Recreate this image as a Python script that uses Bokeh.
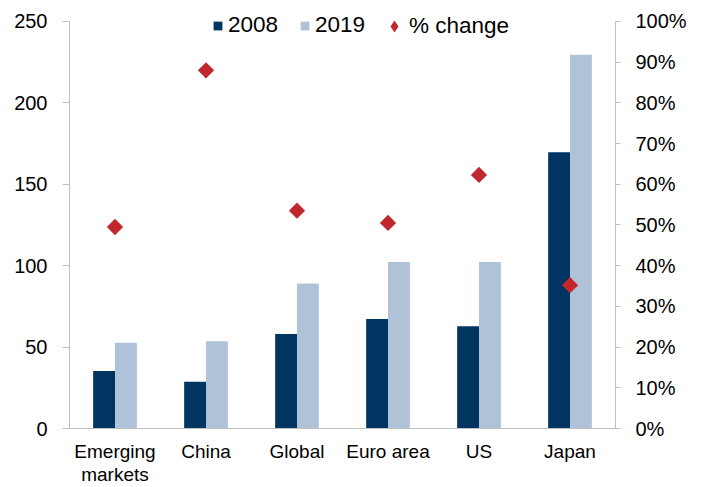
from bokeh.plotting import figure
from bokeh.models import (FactorRange, Range1d, LinearAxis, FixedTicker,
                          NumeralTickFormatter, Legend, LegendItem, ColumnDataSource)
from bokeh.transform import dodge
from bokeh.embed import file_html
from bokeh.resources import INLINE

categories = ["Emerging\nmarkets", "China", "Global", "Euro area", "US", "Japan"]
values_2008 = [35.3, 28.7, 58.1, 67.2, 62.8, 169.7]
values_2019 = [52.6, 53.6, 89.0, 102.3, 102.3, 229.6]
pct_change = [0.495, 0.880, 0.535, 0.505, 0.623, 0.352]
left_ticks = [0, 50, 100, 150, 200, 250]
right_ticks = [0.0, 0.1, 0.2, 0.3, 0.4, 0.5, 0.6, 0.7, 0.8, 0.9, 1.0]

FONT = "Liberation Sans"
AXIS_GREY = "#BFBFBF"
RED = "#C1272D"

# layout: frame spans 5..430 px vertically, axis scale 0..250 occupies 21..430
TOP_PAD = 425.0 / 409.0

src = ColumnDataSource(dict(cat=categories, v2008=values_2008,
                            v2019=values_2019, pct=pct_change))

p = figure(x_range=FactorRange(*categories),
           y_range=Range1d(0, 250 * TOP_PAD),
           width=702, height=487, output_backend="svg", toolbar_location=None,
           min_border_left=69, min_border_right=87, min_border_top=5,
           min_border_bottom=57)
p.extra_y_ranges = {"pct": Range1d(0, 1 * TOP_PAD)}

r1 = p.vbar(x=dodge("cat", -0.12, range=p.x_range), top="v2008", width=0.24,
            source=src, fill_color="#003562", line_color=None)
r2 = p.vbar(x=dodge("cat", 0.12, range=p.x_range), top="v2019", width=0.24,
            source=src, fill_color="#B0C2D8", line_color=None)
r3 = p.scatter(x="cat", y="pct", y_range_name="pct", marker="square",
               angle=0.785398, size=11.5, fill_color=RED,
               line_color=None, source=src)
# legend swatch: same series as a zero-size diamond marker (legend key only)
r3_key = p.scatter(x="cat", y="pct", y_range_name="pct", marker="diamond",
                   size=0, fill_color=RED, line_color=None, source=src)

p.xgrid.visible = False
p.ygrid.visible = False
p.outline_line_color = None

# left axis
ya = p.yaxis[0]
ya.ticker = FixedTicker(ticks=left_ticks)
ya.bounds = (0, 250)
ya.axis_line_color = AXIS_GREY
ya.major_tick_line_color = AXIS_GREY
ya.major_tick_out = 7
ya.major_tick_in = 0
ya.minor_tick_line_color = None
ya.major_label_standoff = 15
ya.major_label_text_font = FONT
ya.major_label_text_font_size = "20px"
ya.major_label_text_color = "#000000"

# right axis
ra = LinearAxis(y_range_name="pct", ticker=FixedTicker(ticks=right_ticks),
                formatter=NumeralTickFormatter(format="0%"), bounds=(0, 1))
ra.axis_line_color = AXIS_GREY
ra.major_tick_line_color = AXIS_GREY
ra.major_tick_out = 5
ra.major_tick_in = 0
ra.minor_tick_line_color = None
ra.major_label_standoff = 15
ra.major_label_text_font = FONT
ra.major_label_text_font_size = "20px"
ra.major_label_text_color = "#000000"
p.add_layout(ra, "right")

# x axis
xa = p.xaxis[0]
xa.axis_line_color = AXIS_GREY
xa.major_tick_line_color = None
xa.major_tick_out = 0
xa.major_tick_in = 0
xa.minor_tick_line_color = None
xa.major_label_standoff = 12
xa.major_label_text_font = FONT
xa.major_label_text_font_size = "19px"
xa.major_label_text_line_height = 1.1
xa.major_label_text_color = "#000000"

common = dict(orientation="horizontal", border_line_alpha=0,
              background_fill_alpha=0, padding=0, margin=0,
              label_text_font=FONT, label_text_font_size="22.5px",
              label_text_color="#000000", label_height=23)

legend_bars = Legend(items=[LegendItem(label="2008", renderers=[r1]),
                            LegendItem(label="2019", renderers=[r2])],
                     location=(143, 390), spacing=21, label_standoff=5,
                     glyph_width=11, glyph_height=11, **common)
legend_pct = Legend(items=[LegendItem(label="% change", renderers=[r3_key])],
                    location=(310, 387), spacing=0, label_standoff=0,
                    glyph_width=30, glyph_height=30, **common)
p.add_layout(legend_bars)
p.add_layout(legend_pct)

open("out.html", "w").write(file_html(p, INLINE))
